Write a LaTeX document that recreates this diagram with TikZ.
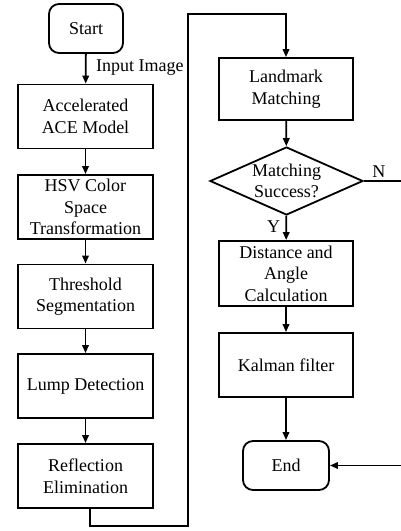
\documentclass[tikz,border=0pt]{standalone}
\usepackage{fontspec}
\setmainfont{Liberation Serif}
\usetikzlibrary{arrows.meta,shapes,positioning}

\begin{document}
\begin{tikzpicture}[x=1pt, y=-1pt, >={Triangle[length=8pt,width=6.5pt]}, line width=1.8pt,
    every node/.style={font=\rmfamily\fontsize{18}{21.6}\selectfont},
    process/.style={draw, rectangle, minimum width=135pt, minimum height=64pt, align=center, inner sep=0pt},
    terminal/.style={draw, rounded corners=10pt, minimum width=74pt, minimum height=49pt, align=center},
    decision/.style={draw, diamond, aspect=2.25, inner sep=0pt, minimum width=153pt, minimum height=68pt, align=center}]
    \useasboundingbox (0,0) rectangle (400,531);

    % Left column: image preprocessing
    \node[terminal] (start) at (86,28.5) {Start};
    \node[process] (ace) at (85.5,116.5) {Accelerated\\ACE Model};
    \node[process] (hsv) at (85.5,207) {HSV Color\\Space\\Transformation};
    \node[process] (thresh) at (85.5,296.5) {Threshold\\Segmentation};
    \node[process] (lump) at (85.5,386) {Lump Detection};
    \node[process] (refl) at (85.5,476) {Reflection\\Elimination};

    % Right column: matching and tracking
    \node[process, minimum width=134pt, minimum height=62pt] (landmark) at (286,89) {Landmark\\Matching};
    \node[decision] (match) at (286.5,181) {Matching\\Success?};
    \node[process, minimum width=134pt, minimum height=65pt] (dist) at (286,273.5) {Distance and\\Angle\\Calculation};
    \node[process, minimum width=134pt] (kalman) at (286,365) {Kalman filter};
    \node[terminal, minimum width=86pt] (end) at (286,465.5) {End};

    % Connectors
    \draw[->] (start) -- (ace) node[pos=0.45, right=6pt, anchor=west] (inlabel) {Input Image};
    \draw[->] (ace) -- (hsv);
    \draw[->] (hsv) -- (thresh);
    \draw[->] (thresh) -- (lump);
    \draw[->] (lump) -- (refl);
    \draw[->] ([xshift=4.5pt]refl.south) |- (188,526) -- (188,14) -| (landmark.north);
    \draw[->] (landmark) -- (match);
    \draw[->] (match) -- (dist) node[pos=0.45, left=2pt] (ylabel) {Y};
    \draw[->] (dist) -- (kalman);
    \draw[->] (kalman) -- (end);
    \draw[->] (match.east) -- (401.5,181) node[pos=0.4, above=-1pt] (nlabel) {N} |- (end.east);
\end{tikzpicture}
\end{document}
